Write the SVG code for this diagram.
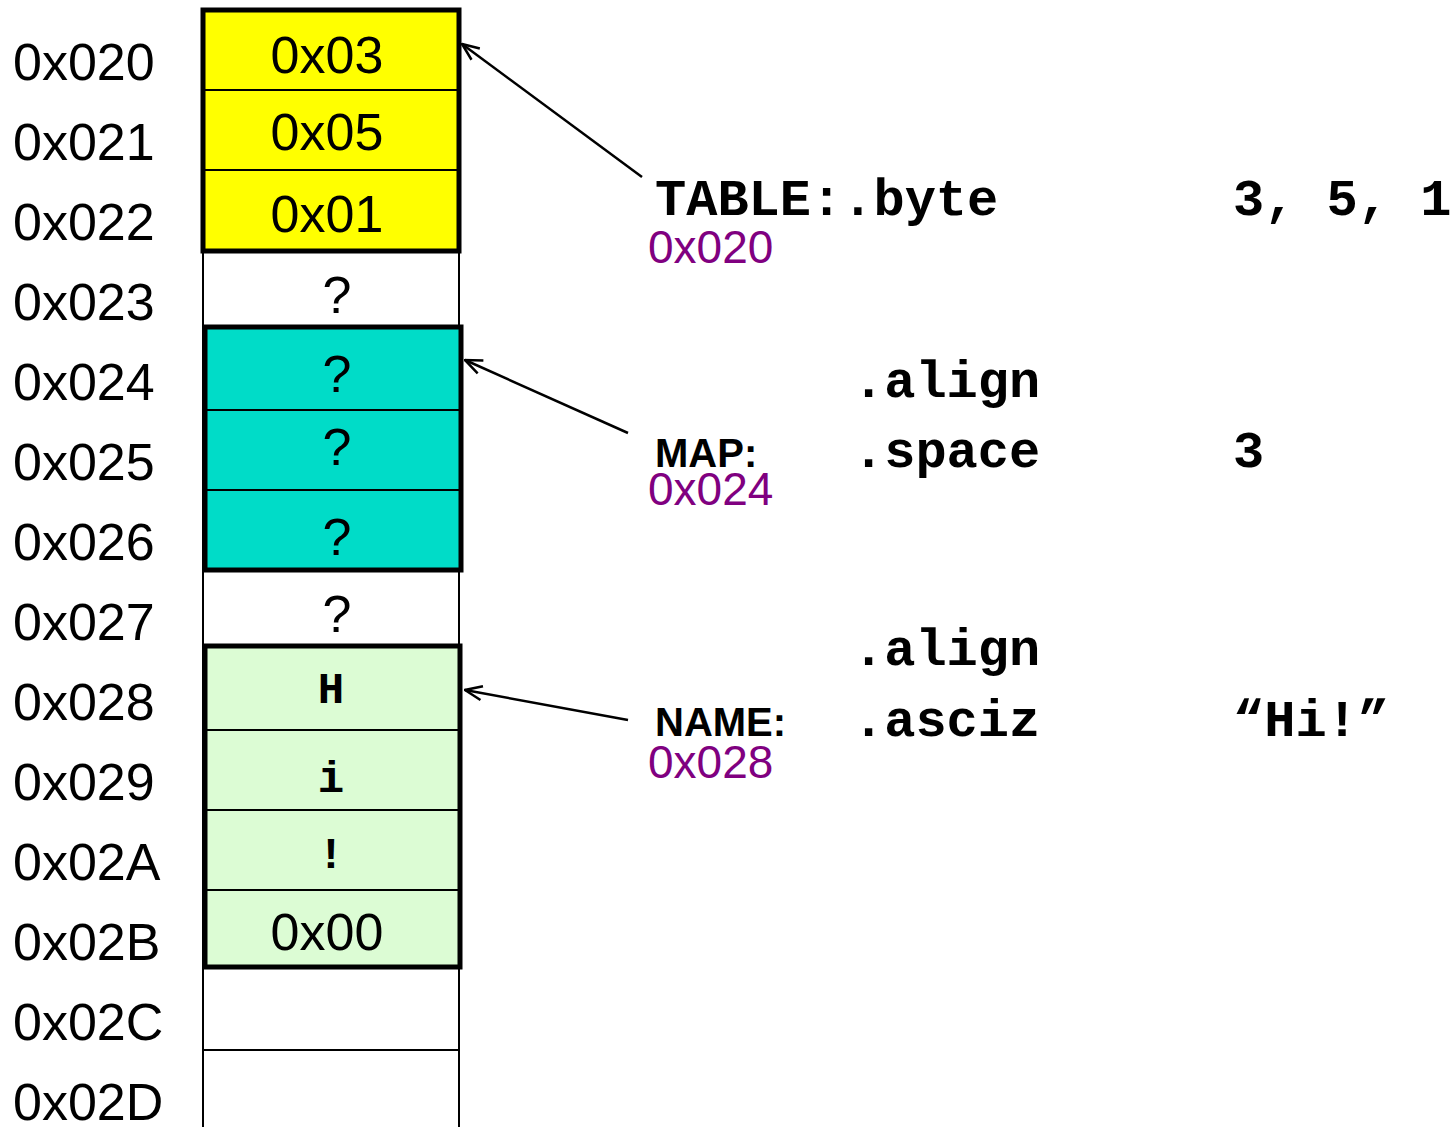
<svg xmlns="http://www.w3.org/2000/svg" width="1456" height="1127" viewBox="0 0 1456 1127">
<defs>
<style>
.addr{font-family:"Liberation Sans",Arial,sans-serif;font-size:52px;fill:#000}
.val{font-family:"Liberation Sans",Arial,sans-serif;font-size:52px;fill:#000;text-anchor:middle}
.ch{font-family:"Liberation Mono","Courier New",monospace;font-weight:bold;font-size:44px;fill:#000;text-anchor:middle}
.code{font-family:"Liberation Mono","Courier New",monospace;font-weight:bold;font-size:52px;fill:#000}
.lbl{font-family:"Liberation Sans",Arial,sans-serif;font-weight:bold;font-size:40px;fill:#000}
.pa{font-family:"Liberation Sans",Arial,sans-serif;font-size:46px;fill:#800080}
.cell{stroke:#000;stroke-width:2}
.grp{fill:none;stroke:#000;stroke-width:5}
.conn{stroke:#000;stroke-width:2.5;fill:none}
</style>
<marker id="arr" viewBox="0 0 20 20" refX="19" refY="10" markerWidth="20" markerHeight="20" markerUnits="userSpaceOnUse" orient="auto">
<path d="M2,3 L19,10 L2,17" fill="none" stroke="#000" stroke-width="2.5"/>
</marker>
</defs>
<rect width="1456" height="1127" fill="#fff"/>

<g id="addresses">
<text class="addr" x="13" y="80">0x020</text>
<text class="addr" x="13" y="160">0x021</text>
<text class="addr" x="13" y="240">0x022</text>
<text class="addr" x="13" y="320">0x023</text>
<text class="addr" x="13" y="400">0x024</text>
<text class="addr" x="13" y="480">0x025</text>
<text class="addr" x="13" y="560">0x026</text>
<text class="addr" x="13" y="640">0x027</text>
<text class="addr" x="13" y="720">0x028</text>
<text class="addr" x="13" y="800">0x029</text>
<text class="addr" x="13" y="880">0x02A</text>
<text class="addr" x="13" y="960">0x02B</text>
<text class="addr" x="13" y="1040">0x02C</text>
<text class="addr" x="13" y="1120">0x02D</text>
</g>

<g id="memory-column">
<line class="cell" x1="203" y1="10" x2="203" y2="1127"/>
<line class="cell" x1="459" y1="10" x2="459" y2="1127"/>
<line class="cell" x1="203" y1="1050" x2="459" y2="1050"/>
</g>

<g id="table-block">
<rect x="203" y="10" width="256" height="241" fill="#ffff00"/>
<line class="cell" x1="203" y1="90" x2="459" y2="90"/>
<line class="cell" x1="203" y1="170" x2="459" y2="170"/>
<rect class="grp" x="203" y="10" width="256" height="241"/>
<text class="val" x="327" y="73">0x03</text>
<text class="val" x="327" y="150">0x05</text>
<text class="val" x="327" y="232">0x01</text>
</g>

<g id="cell-023">
<text class="val" x="337" y="313">?</text>
</g>

<g id="map-block">
<rect x="205" y="327" width="256" height="243" fill="#00dcc8"/>
<line class="cell" x1="205" y1="410" x2="461" y2="410"/>
<line class="cell" x1="205" y1="490" x2="461" y2="490"/>
<rect class="grp" x="205" y="327" width="256" height="243"/>
<text class="val" x="337" y="392">?</text>
<text class="val" x="337" y="465">?</text>
<text class="val" x="337" y="555">?</text>
</g>

<g id="cell-027">
<text class="val" x="337" y="632">?</text>
</g>

<g id="name-block">
<rect x="205" y="646" width="255" height="321" fill="#dcfcd4"/>
<line class="cell" x1="205" y1="730" x2="460" y2="730"/>
<line class="cell" x1="205" y1="810" x2="460" y2="810"/>
<line class="cell" x1="205" y1="890" x2="460" y2="890"/>
<rect class="grp" x="205" y="646" width="255" height="321"/>
<text class="ch" x="331" y="703">H</text>
<text class="ch" x="331" y="792">i</text>
<text class="ch" x="331" y="868">!</text>
<text class="val" x="327" y="950">0x00</text>
</g>

<g id="connectors">
<line class="conn" x1="642" y1="177" x2="462" y2="44" marker-end="url(#arr)"/>
<line class="conn" x1="628" y1="433" x2="465" y2="360" marker-end="url(#arr)"/>
<line class="conn" x1="628" y1="720" x2="465" y2="690" marker-end="url(#arr)"/>
</g>

<g id="table-label">
<text class="code" x="655" y="215">TABLE:.byte</text>
<text class="code" x="1233" y="215">3, 5, 1</text>
<text class="pa" x="648" y="263">0x020</text>
</g>

<g id="map-label">
<text class="code" x="853" y="397">.align</text>
<text class="lbl" x="655" y="467">MAP:</text>
<text class="code" x="853" y="467">.space</text>
<text class="code" x="1233" y="467">3</text>
<text class="pa" x="648" y="505">0x024</text>
</g>

<g id="name-label">
<text class="code" x="853" y="665">.align</text>
<text class="lbl" x="655" y="736">NAME:</text>
<text class="code" x="853" y="736">.asciz</text>
<text class="code" x="1233" y="736">“Hi!”</text>
<text class="pa" x="648" y="778">0x028</text>
</g>
</svg>
